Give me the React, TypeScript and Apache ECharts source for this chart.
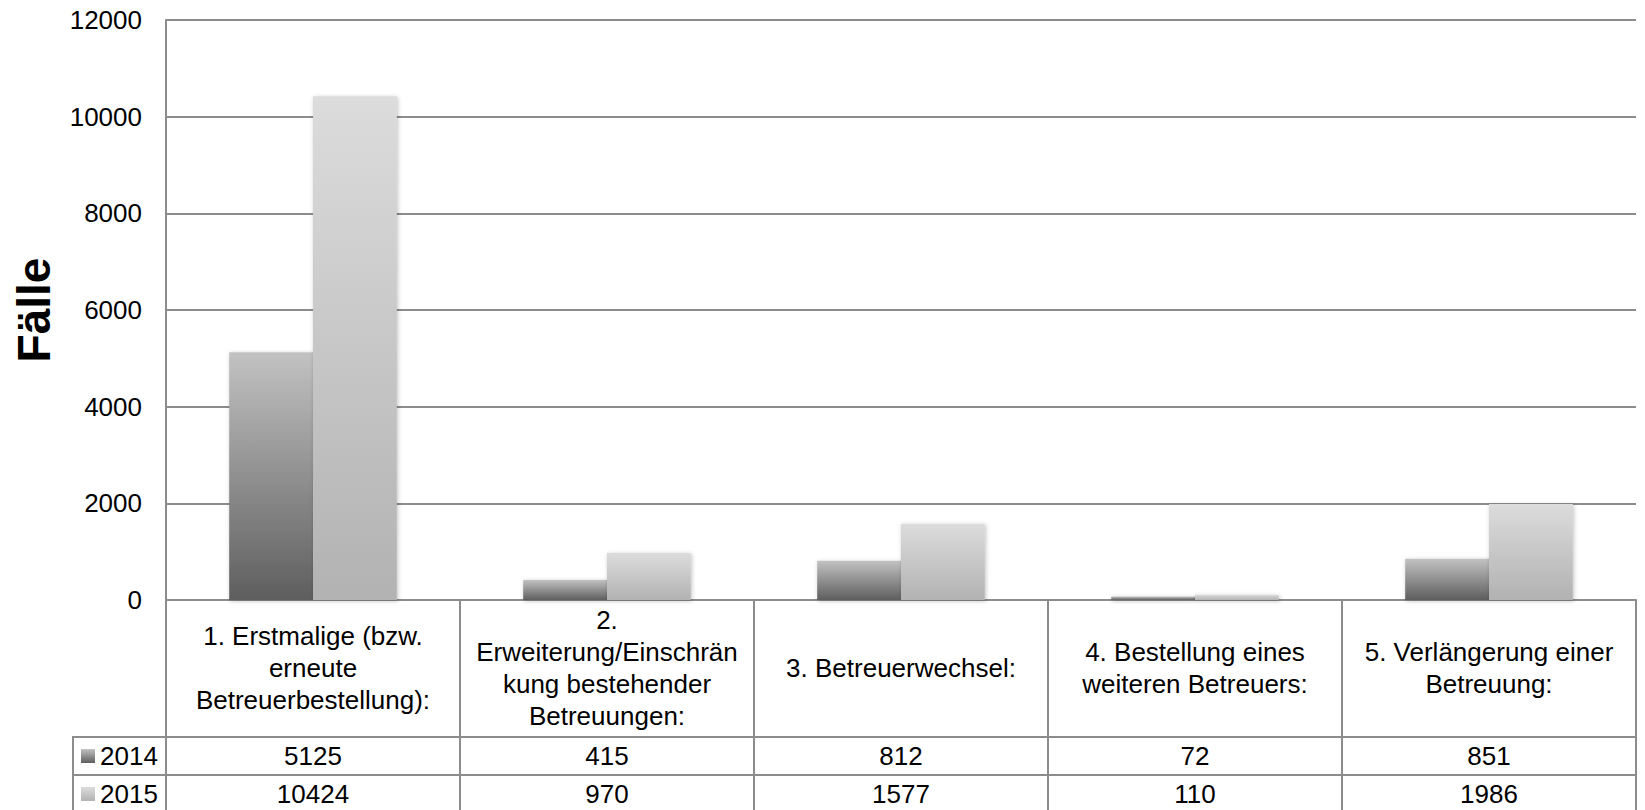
import React, { useEffect, useRef } from "react";
import * as echarts from "echarts";

const categories = [
  "1. Erstmalige (bzw.\nerneute\nBetreuerbestellung):",
  "2.\nErweiterung/Einschrän\nkung bestehender\nBetreuungen:",
  "3. Betreuerwechsel:",
  "4. Bestellung eines\nweiteren Betreuers:",
  "5. Verlängerung einer\nBetreuung:",
];
const seriesNames = ["2014", "2015"];
const values2014 = [5125, 415, 812, 72, 851];
const values2015 = [10424, 970, 1577, 110, 1986];
const yMin = 0;
const yMax = 12000;
const yInterval = 2000;
const yAxisTitle = "Fälle";

const FONT = "'Liberation Sans', Arial, sans-serif";
const LINE = "#8c8c8c";

export default function App() {
  const ref = useRef<HTMLDivElement>(null);
  useEffect(() => {
    if (!ref.current) return;
    const chart = echarts.init(ref.current, null, { renderer: "svg" });
    const grad2014 = new echarts.graphic.LinearGradient(0, 0, 0, 1, [
      { offset: 0, color: "#c2c2c2" },
      { offset: 1, color: "#5e5e5e" },
    ]);
    const grad2015 = new echarts.graphic.LinearGradient(0, 0, 0, 1, [
      { offset: 0, color: "#dcdcdc" },
      { offset: 1, color: "#b2b2b2" },
    ]);
    const shadow = {
      shadowBlur: 4,
      shadowColor: "rgba(0,0,0,0.25)",
      shadowOffsetX: 1,
      shadowOffsetY: 1,
    };
    chart.setOption({
      animation: false,
      backgroundColor: "#ffffff",
      textStyle: { fontFamily: FONT },
      grid: { left: 166, right: 9, top: 20, bottom: 210 },
      legend: {
        orient: "vertical",
        left: 81,
        top: 743,
        padding: 0,
        itemWidth: 14,
        itemHeight: 14,
        itemGap: 12,
        icon: "rect",
        data: seriesNames,
        textStyle: { fontSize: 26, lineHeight: 26, color: "#000", fontFamily: FONT },
      },
      graphic: [
        { type: "line", shape: { x1: 72, y1: 737, x2: 166, y2: 737 }, style: { stroke: LINE, lineWidth: 2 } },
        { type: "line", shape: { x1: 72, y1: 775, x2: 166, y2: 775 }, style: { stroke: LINE, lineWidth: 2 } },
        { type: "line", shape: { x1: 73, y1: 737, x2: 73, y2: 812 }, style: { stroke: LINE, lineWidth: 2 } },
      ],
      xAxis: [
        {
          type: "category",
          data: categories,
          position: "bottom",
          axisLine: { show: true, lineStyle: { color: LINE, width: 2 } },
          axisTick: { show: true, length: 215, interval: 0, lineStyle: { color: LINE, width: 2 } },
          axisLabel: {
            interval: 0,
            margin: 68,
            verticalAlign: "middle",
            fontSize: 26,
            lineHeight: 32,
            color: "#000",
            fontFamily: FONT,
          },
          splitLine: { show: false },
        },
        {
          type: "category",
          data: values2014.map(String),
          position: "bottom",
          offset: 137,
          axisLine: { show: true, lineStyle: { color: LINE, width: 2 } },
          axisTick: { show: false },
          axisLabel: { interval: 0, margin: 19, verticalAlign: "middle", fontSize: 26, color: "#000", fontFamily: FONT },
        },
        {
          type: "category",
          data: values2015.map(String),
          position: "bottom",
          offset: 175,
          axisLine: { show: true, lineStyle: { color: LINE, width: 2 } },
          axisTick: { show: false },
          axisLabel: { interval: 0, margin: 19, verticalAlign: "middle", fontSize: 26, color: "#000", fontFamily: FONT },
        },
      ],
      yAxis: {
        type: "value",
        min: yMin,
        max: yMax,
        interval: yInterval,
        name: yAxisTitle,
        nameLocation: "middle",
        nameRotate: 90,
        nameGap: 109,
        nameTextStyle: { fontSize: 46, fontWeight: "bold", color: "#000", fontFamily: FONT },
        axisLine: { show: true, lineStyle: { color: LINE, width: 2 } },
        axisTick: { show: false },
        axisLabel: {
          margin: 24,
          fontSize: 26,
          color: "#000",
          fontFamily: FONT,
          formatter: (v: number) => String(v),
        },
        splitLine: { show: true, lineStyle: { color: LINE, width: 2 } },
      },
      series: [
        {
          name: seriesNames[0],
          type: "bar",
          data: values2014,
          barGap: "0%",
          barCategoryGap: "43%",
          itemStyle: { color: grad2014, ...shadow },
        },
        {
          name: seriesNames[1],
          type: "bar",
          data: values2015,
          barGap: "0%",
          barCategoryGap: "43%",
          itemStyle: { color: grad2015, ...shadow },
        },
      ],
    });
    return () => chart.dispose();
  }, []);
  return (
    <div
      ref={ref}
      style={{ position: "fixed", left: 0, top: 0, width: 1645, height: 810, background: "#fff" }}
    />
  );
}
